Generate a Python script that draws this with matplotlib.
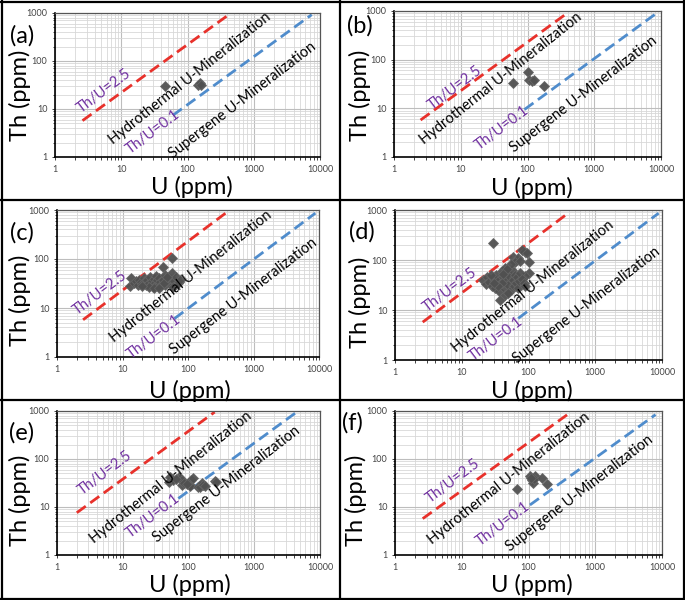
import matplotlib
matplotlib.use("Agg")
import matplotlib.pyplot as plt
from matplotlib.lines import Line2D
from matplotlib.ticker import LogLocator, FixedLocator, NullFormatter

plt.rcParams['font.family'] = ['Lato', 'DejaVu Sans']

# panel letters
panels = ['(a)', '(b)', '(c)', '(d)', '(e)', '(f)']

# Th/U reference lines: ratio and U range of each dashed line
red_ratio = [2.2, 2.3, 2.3, 2.2, 3.8, 2.2]
red_u = [(2.6, 400), (2.5, 400), (2.5, 380), (2.6, 390), (2.0, 250), (2.6, 390)]
blue_ratio = [0.123, 0.105, 0.098, 0.097, 0.215, 0.105]
blue_u = [(60, 7500), (90, 8100), (62, 8800), (70, 8900), (70, 4200), (105, 8000)]

# sample points (U, Th in ppm)
u_a = [46, 145, 155, 160]
th_a = [30, 31, 34, 32]

u_b = [61, 102, 106, 118, 126, 178]
th_b = [33, 57, 38.5, 36, 38.5, 29]

u_c = [13.4, 13.1, 15, 16, 17, 18, 19, 20, 21, 22, 23, 24, 25, 26, 27, 28, 29, 30,
       31, 32, 33, 34, 35, 36, 38, 40, 41.3, 42, 44, 45, 48, 50, 52, 55, 56.6, 56.6,
       58, 62, 66, 70, 73, 75, 60, 25, 30, 20, 36, 43, 47]
th_c = [40.6, 28.3, 33, 36, 30, 38, 34, 31, 40, 35, 29, 37, 33, 42, 30, 36, 27, 39,
        33, 45, 30, 37, 28, 41, 34, 31, 70, 38, 47, 29, 35, 40, 32, 37, 105, 52.8,
        30, 35, 42, 32, 34.7, 38, 27, 27, 26, 28, 26, 33, 43]

u_d = [29.2, 89, 80, 95, 100, 59, 65, 70, 62, 75, 100, 90, 21, 24, 23, 26, 28, 30,
       32, 33, 35, 36, 38, 37.5, 40, 42, 43, 45, 46, 48, 50, 52, 55, 56, 58, 60, 62,
       65, 68, 70, 72, 75, 80, 85, 90, 44, 50, 40, 35, 27, 30, 55, 48, 42]
th_d = [216, 147, 160, 140, 92.5, 116, 100, 110, 90, 95, 55, 48, 40, 45, 33, 36, 30, 42,
        28, 50, 38, 24, 33, 15.8, 60, 45, 28, 70, 38, 55, 32, 45, 25, 62, 40, 30, 50,
        35, 45, 28, 38, 55, 42, 35, 30, 20, 22, 35, 30, 50, 35, 85, 65, 52]

u_e = [49.7, 52, 59, 70.5, 74, 79, 78.5, 84, 105, 111, 119, 106, 140, 150, 158, 168,
       180, 254, 265, 65, 95]
th_e = [33.7, 43, 36.5, 41.5, 39.6, 36.5, 28.7, 31, 28.7, 36.5, 39.6, 27, 26.5, 25.7,
        31, 28.7, 28, 35.3, 33, 38, 30]

u_f = [67, 106, 112, 115, 123, 120, 158, 188, 110]
th_f = [23.3, 44, 36.5, 32, 44, 38, 40, 29.6, 41]

u_all = [u_a, u_b, u_c, u_d, u_e, u_f]
th_all = [th_a, th_b, th_c, th_d, th_e, th_f]

W, H = 685, 600

# axes boxes in pixels (x0, y0, x1, y1)
boxes = [(55, 13, 320, 157), (394, 11, 661, 157),
         (57, 210, 319, 357), (395, 210, 662, 360),
         (57, 411, 320, 555), (395, 411, 662, 555)]
letter_pos = [(22, 36), (360, 26), (22, 233), (362, 232), (22, 433), (352, 423)]
ylab_pos = [(20, 95), (360, 95), (20, 300), (360, 302), (20, 500), (356, 500)]
xlab_pos = [(192, 187), (532, 188), (190, 391), (532, 391), (190, 585), (532, 585)]

# text anchors in data coords: Th/U=2.5, Hydrothermal, Th/U=0.1, Supergene
txt_pos = [
    [(5.6, 24), (108, 43), (30.5, 3.3), (668, 15)],
    [(8.1, 26), (40, 42), (41, 3.9), (684, 19)],
    [(4.6, 20), (112, 44), (30, 2.6), (705, 17)],
    [(6.7, 25), (116, 29), (33, 2.6), (733, 12.6)],
    [(5.4, 52), (54, 41), (29.3, 6.5), (373, 29)],
    [(7.5, 35), (50, 40), (41, 4.4), (582, 19)],
]

purple = '#7030a0'
red = '#e8312b'
blue = '#4f8ccc'

fig = plt.figure(figsize=(W / 100, H / 100), dpi=100)

for i in range(6):
    x0, y0, x1, y1 = boxes[i]
    ax = fig.add_axes([x0 / W, 1 - y1 / H, (x1 - x0) / W, (y1 - y0) / H])
    ax.set_xscale('log')
    ax.set_yscale('log')
    ax.set_xlim(1, 10000)
    ax.set_ylim(1, 1000)
    ax.xaxis.set_major_locator(FixedLocator([1, 10, 100, 1000, 10000]))
    ax.yaxis.set_major_locator(FixedLocator([1, 10, 100, 1000]))
    ax.xaxis.set_minor_locator(LogLocator(base=10, subs=range(2, 10), numticks=20))
    ax.yaxis.set_minor_locator(LogLocator(base=10, subs=range(2, 10), numticks=20))
    ax.xaxis.set_minor_formatter(NullFormatter())
    ax.yaxis.set_minor_formatter(NullFormatter())
    ax.set_xticklabels(['1', '10', '100', '1000', '10000'])
    ax.set_yticklabels(['1', '10', '100', '1000'])
    ax.tick_params(which='both', labelsize=6.5, colors='#222222', labelcolor='#444444',
                   length=2.5, width=0.6, pad=3)
    ax.tick_params(which='minor', length=1.8)
    ax.grid(which='major', color='#bdbdbd', lw=0.8)
    ax.grid(which='minor', color='#d8d8d8', lw=0.6)
    ax.set_axisbelow(True)
    for s in ['left', 'bottom']:
        ax.spines[s].set_color('black')
        ax.spines[s].set_linewidth(1.2)
    for s in ['top', 'right']:
        ax.spines[s].set_color('#555555')
        ax.spines[s].set_linewidth(0.9)

    ru0, ru1 = red_u[i]
    ax.plot([ru0, ru1], [ru0 * red_ratio[i], ru1 * red_ratio[i]], color=red, lw=2,
            dashes=(4, 2))
    bu0, bu1 = blue_u[i]
    ax.plot([bu0, bu1], [bu0 * blue_ratio[i], bu1 * blue_ratio[i]], color=blue, lw=2,
            dashes=(4, 2))

    ax.plot(u_all[i], th_all[i], 'D', color='#505050', ms=4.8, mec='#666666', mew=0.6,
            alpha=0.95, zorder=3)

    p = txt_pos[i]
    ax.text(*p[0], 'Th/U=2.5', color=purple, fontsize=10.5, rotation=37,
            ha='center', va='center', rotation_mode='anchor', zorder=4)
    ax.text(*p[1], 'Hydrothermal U-Mineralization', color='black', fontsize=10.5,
            rotation=38.5, ha='center', va='center', rotation_mode='anchor', zorder=4)
    ax.text(*p[2], 'Th/U=0.1', color=purple, fontsize=10.5, rotation=37,
            ha='center', va='center', rotation_mode='anchor', zorder=4)
    ax.text(*p[3], 'Supergene U-Mineralization', color='black', fontsize=10.5,
            rotation=37.5, ha='center', va='center', rotation_mode='anchor', zorder=4)

    lx, ly = letter_pos[i]
    fig.text(lx / W, 1 - ly / H, panels[i], fontsize=17, ha='center', va='center')
    yx, yy = ylab_pos[i]
    fig.text(yx / W, 1 - yy / H, 'Th (ppm)', fontsize=17, rotation=90,
             ha='center', va='center')
    xx, xy = xlab_pos[i]
    fig.text(xx / W, 1 - xy / H, 'U (ppm)', fontsize=17, ha='center', va='center')

# panel frames
for xv in [1.5, 340, 683.5]:
    fig.add_artist(Line2D([xv / W, xv / W], [0, 1], color='black', lw=1.6))
for yv in [1.5, 200, 400, 598.5]:
    fig.add_artist(Line2D([0, 1], [1 - yv / H, 1 - yv / H], color='black', lw=1.6))

fig.savefig('out.png', dpi=100)
